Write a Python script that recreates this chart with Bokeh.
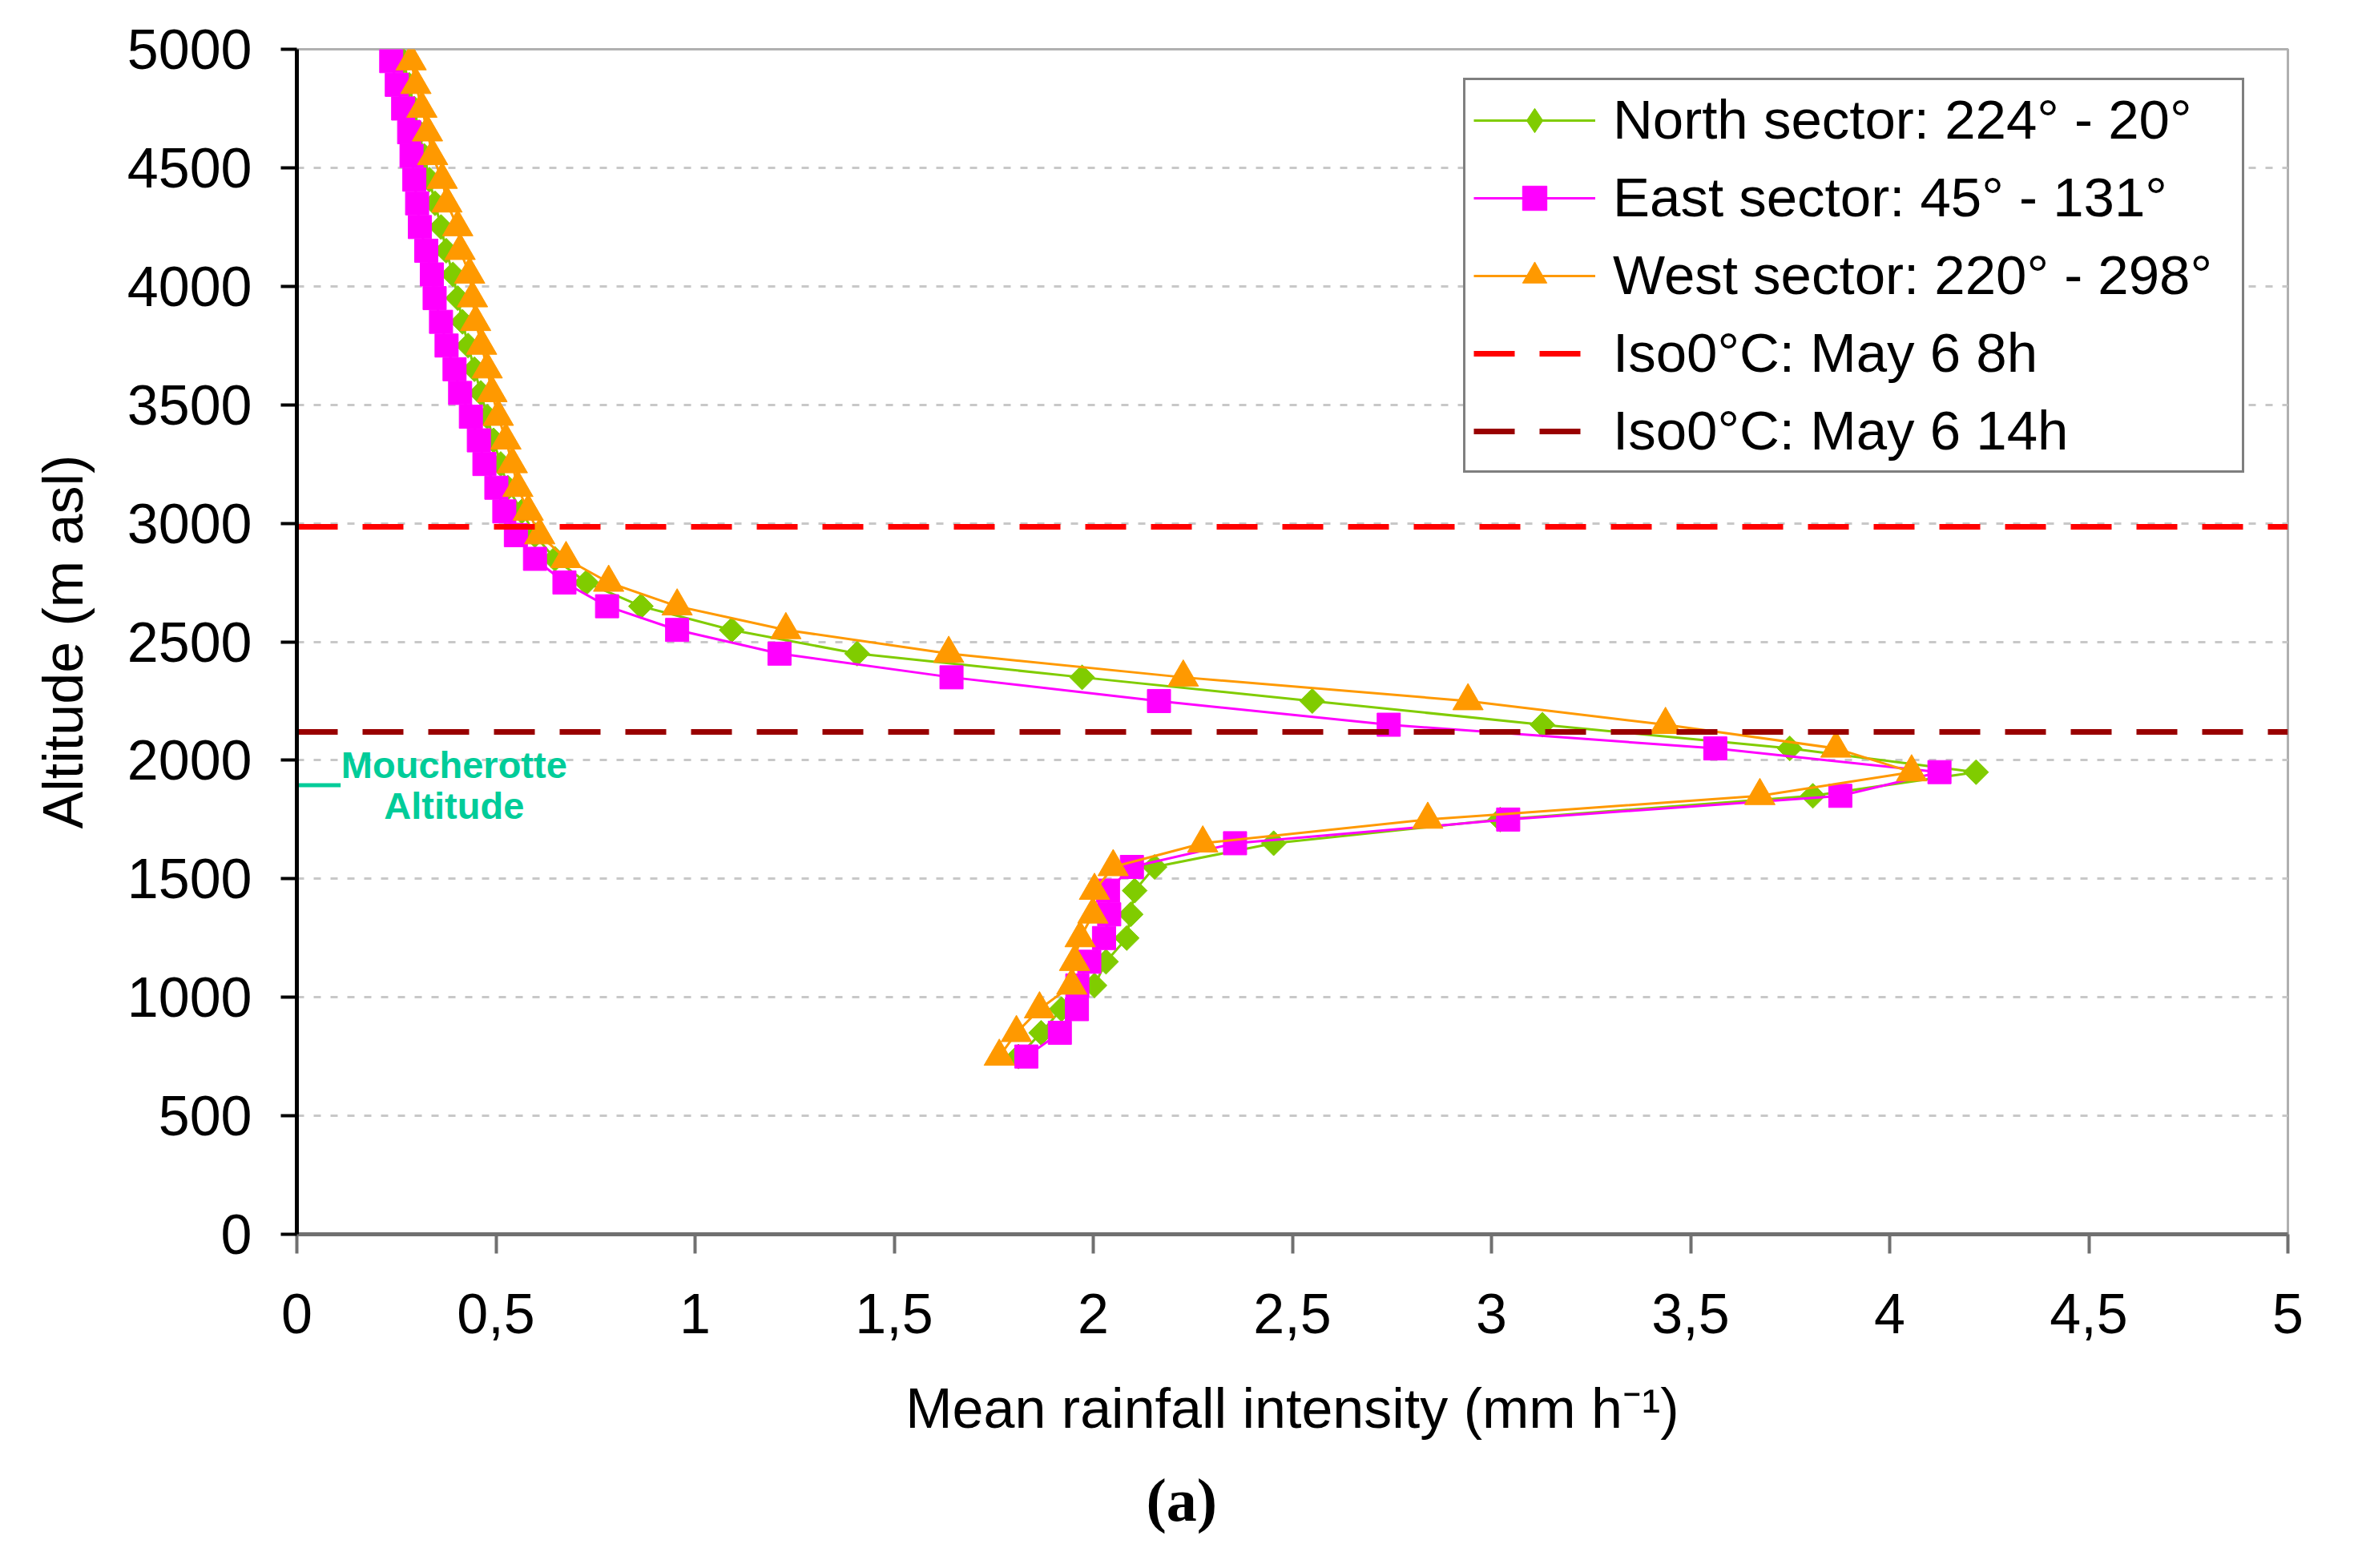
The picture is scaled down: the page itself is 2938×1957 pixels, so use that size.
# -*- coding: utf-8 -*-
# Mean rainfall intensity profiles by sector (Moucherotte radar, May 6)

import math

from bokeh.plotting import figure
from bokeh.models import Range1d, FixedTicker, Label, Title
from bokeh.embed import file_html
from bokeh.resources import INLINE

# altitude of each profile level (m asl)
altitude = [750, 850, 950, 1050, 1150, 1250, 1350, 1450, 1550, 1650,
            1750, 1850, 1950, 2050, 2150, 2250, 2350, 2450, 2550, 2650,
            2750, 2850, 2950, 3050, 3150, 3250, 3350, 3450, 3550, 3650,
            3750, 3850, 3950, 4050, 4150, 4250, 4350, 4450, 4550, 4650,
            4750, 4850, 4950]

# mean rainfall intensity (mm/h) per sector
north = [1.812, 1.869, 1.920, 2.003, 2.032, 2.084, 2.094, 2.104, 2.154, 2.453,
         3.022, 3.807, 4.217, 3.749, 3.128, 2.550, 1.972, 1.407, 1.092, 0.864,
         0.727, 0.648, 0.598, 0.565, 0.530, 0.512, 0.494, 0.478, 0.462, 0.446,
         0.430, 0.416, 0.404, 0.392, 0.375, 0.362, 0.347, 0.333, 0.320, 0.307,
         0.295, 0.282, 0.268]
east = [1.832, 1.916, 1.959, 1.960, 1.990, 2.027, 2.040, 2.037, 2.097, 2.356,
        3.042, 3.876, 4.125, 3.562, 2.742, 2.165, 1.644, 1.212, 0.955, 0.779,
        0.672, 0.598, 0.550, 0.521, 0.501, 0.471, 0.457, 0.437, 0.410, 0.396,
        0.376, 0.362, 0.346, 0.339, 0.325, 0.309, 0.302, 0.295, 0.288, 0.282,
        0.267, 0.251, 0.237]
west = [1.764, 1.807, 1.865, 1.946, 1.953, 1.967, 1.999, 2.003, 2.050, 2.275,
        2.840, 3.674, 4.055, 3.865, 3.437, 2.941, 2.226, 1.637, 1.228, 0.955,
        0.783, 0.676, 0.610, 0.581, 0.555, 0.541, 0.525, 0.506, 0.490, 0.478,
        0.464, 0.449, 0.441, 0.434, 0.410, 0.404, 0.377, 0.365, 0.341, 0.328,
        0.314, 0.299, 0.287]

series_names = ["North sector: 224° - 20°", "East sector: 45° - 131°", "West sector: 220° - 298°"]

# iso 0°C altitudes
iso_alt = [2985, 2120]
iso_names = ["Iso0°C: May 6 8h", "Iso0°C: May 6 14h"]

# Moucherotte altitude mark
moucherotte_alt = 1895
moucherotte_x = [0.0, 0.11]

x_ticks = [0.0, 0.5, 1.0, 1.5, 2.0, 2.5, 3.0, 3.5, 4.0, 4.5, 5.0]
x_tick_labels = ["0", "0,5", "1", "1,5", "2", "2,5", "3", "3,5", "4", "4,5", "5"]
y_ticks = [0, 500, 1000, 1500, 2000, 2500, 3000, 3500, 4000, 4500, 5000]

FONT = "Liberation Sans"

p = figure(width=2922, height=1941,
           x_range=Range1d(0, 5), y_range=Range1d(0, 5000),
           output_backend="svg", toolbar_location=None,
           min_border_left=370, min_border_right=67,
           min_border_top=61, min_border_bottom=401)
p.background_fill_color = "white"
p.border_fill_color = "white"
p.outline_line_color = "#B0B0B0"
p.outline_line_width = 3

# 坐标轴
p.xaxis.ticker = FixedTicker(ticks=x_ticks)
p.xaxis.major_label_overrides = dict(zip(x_ticks, x_tick_labels))
p.yaxis.ticker = FixedTicker(ticks=y_ticks)
for ax in (p.xaxis, p.yaxis):
    ax.minor_tick_line_color = None
    ax.major_label_text_font = FONT
    ax.major_label_text_font_size = "70px"
    ax.major_label_text_color = "black"
    ax.axis_label_text_font = FONT
    ax.axis_label_text_font_size = "70px"
    ax.axis_label_text_font_style = "normal"
    ax.axis_label_text_color = "black"
    ax.major_tick_in = 0
    ax.major_tick_line_width = 4
p.xaxis.major_label_standoff = 50
p.yaxis.major_label_standoff = 36
p.xaxis.major_tick_out = 24
p.yaxis.major_tick_out = 20
p.xaxis.axis_line_color = "#707070"
p.xaxis.axis_line_width = 5
p.xaxis.major_tick_line_color = "#707070"
p.yaxis.axis_line_color = "black"
p.yaxis.axis_line_width = 5
p.yaxis.major_tick_line_color = "black"
p.xaxis.axis_label = "Mean rainfall intensity (mm h⁻¹)"
p.yaxis.axis_label = "Altitude (m asl)"
p.xaxis.axis_label_standoff = 52
p.yaxis.axis_label_standoff = 38

p.xgrid.visible = False
p.ygrid.grid_line_color = "#C8C8C8"
p.ygrid.grid_line_width = 3
p.ygrid.grid_line_dash = "9 12"

# 数据曲线
# North: a plain diamond (what the legend shows) covered by a square turned 45°
styles = [(north, "#80CC00", "square", 22, math.pi / 4),
          (east, "#FF00FF", "square", 29, 0),
          (west, "#FF9900", "triangle", 38, 0)]
for (vals, color, marker, size, angle), name in zip(styles, series_names):
    p.line(vals, altitude, line_color=color, line_width=3, legend_label=name)
    if angle:
        p.scatter(vals, altitude, marker="diamond", size=28, fill_color=color,
                  line_color=color, legend_label=name)
        p.scatter(vals, altitude, marker=marker, size=size, angle=angle,
                  fill_color=color, line_color=color)
    else:
        p.scatter(vals, altitude, marker=marker, size=size,
                  fill_color=color, line_color=color, legend_label=name)

# 0°C 等温线
for alt, name, color in zip(iso_alt, iso_names, ["#FF0000", "#990000"]):
    p.line([p.x_range.start, p.x_range.end], [alt, alt], line_color=color,
           line_width=7, line_dash="51 31", legend_label=name)

# Moucherotte
p.line(moucherotte_x, [moucherotte_alt, moucherotte_alt], line_color="#00CC99", line_width=5)
for txt, y in [("Moucherotte", 1982), ("Altitude", 1808)]:
    p.add_layout(Label(x=0.395, y=y, text=txt, text_align="center", text_baseline="middle",
                       text_font=FONT, text_font_style="bold", text_font_size="47px",
                       text_color="#00CC99"))

# 图例
lg = p.legend[0]
lg.location = (1456, 950)
lg.label_text_font = FONT
lg.label_text_font_size = "69px"
lg.label_text_color = "black"
lg.glyph_width = 152
lg.glyph_height = 76
lg.label_height = 76
lg.label_width = 775
lg.label_standoff = 22
lg.spacing = 18
lg.padding = 10
lg.margin = 0
lg.border_line_color = "black"
lg.border_line_width = 3
lg.background_fill_alpha = 1
lg.click_policy = "none"

p.add_layout(Title(text="(a)", align="left", offset=1060, standoff=56,
                   text_font="Liberation Serif", text_font_style="bold",
                   text_font_size="76px", text_color="black"), "below")

open("out.html", "w").write(file_html(p, INLINE))
